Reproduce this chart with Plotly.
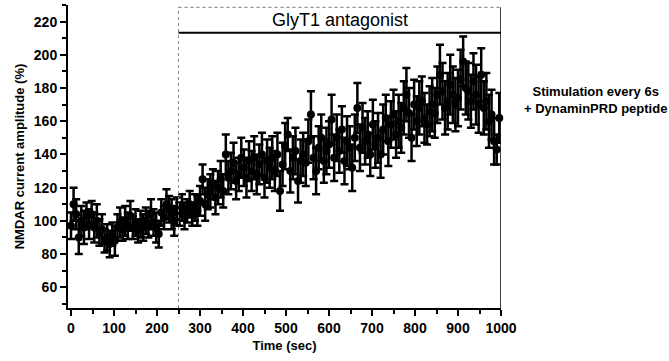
import plotly.graph_objects as go

# Time points (s) – stimulation every 6 s
time_s = [
    0, 6, 12, 18, 24, 30, 36, 42, 48, 54,
    60, 66, 72, 78, 84, 90, 96, 102, 108, 114,
    120, 126, 132, 138, 144, 150, 156, 162, 168, 174,
    180, 186, 192, 198, 204, 210, 216, 222, 228, 234,
    240, 246, 252, 258, 264, 270, 276, 282, 288, 294,
    300, 306, 312, 318, 324, 330, 336, 342, 348, 354,
    360, 366, 372, 378, 384, 390, 396, 402, 408, 414,
    420, 426, 432, 438, 444, 450, 456, 462, 468, 474,
    480, 486, 492, 498, 504, 510, 516, 522, 528, 534,
    540, 546, 552, 558, 564, 570, 576, 582, 588, 594,
    600, 606, 612, 618, 624, 630, 636, 642, 648, 654,
    660, 666, 672, 678, 684, 690, 696, 702, 708, 714,
    720, 726, 732, 738, 744, 750, 756, 762, 768, 774,
    780, 786, 792, 798, 804, 810, 816, 822, 828, 834,
    840, 846, 852, 858, 864, 870, 876, 882, 888, 894,
    900, 906, 912, 918, 924, 930, 936, 942, 948, 954,
    960, 966, 972, 978, 984, 990, 996,
]

# NMDAR current amplitude (% of baseline)
amplitude = [
    97, 110, 104, 90, 100, 96, 103, 98, 104, 96,
    100, 93, 95, 88, 90, 86, 92, 88, 96, 99,
    95, 100, 97, 103, 96, 99, 94, 98, 96, 100,
    98, 104, 99, 96, 92, 105, 102, 110, 107, 104,
    100, 106, 104, 108, 103, 106, 110, 104, 108, 106,
    112, 125, 110, 116, 118, 122, 114, 120, 125, 118,
    140, 126, 130, 135, 124, 128, 138, 132, 126, 136,
    130, 138, 128, 134, 140, 126, 136, 132, 138, 130,
    140, 118, 134, 145, 152, 130, 138, 142, 124, 136,
    140, 135, 148, 164, 138, 130, 144, 150, 136, 142,
    146, 161, 138, 150, 142, 155, 136, 148, 144, 132,
    150, 168, 144, 156, 148, 152, 140, 158, 146, 150,
    140, 155, 162, 148, 158, 164, 152, 160, 156, 168,
    176, 165, 150, 170, 160, 168, 172, 162, 158, 166,
    170, 165, 176, 188, 178, 168, 172, 182, 176, 170,
    174, 185, 196, 180, 178, 172, 184, 176, 170, 188,
    168, 172, 160, 164, 148, 143, 162,
]

# Error (SEM, %)
errors = [
    8, 10, 9, 10, 9, 10, 8, 9, 8, 9,
    10, 8, 9, 7, 8, 8, 7, 9, 8, 9,
    7, 9, 8, 9, 7, 8, 7, 8, 8, 8,
    8, 9, 8, 9, 8, 8, 7, 9, 8, 9,
    9, 8, 7, 8, 8, 7, 8, 7, 8, 9,
    9, 9, 10, 9, 10, 9, 10, 10, 11, 10,
    12, 10, 11, 12, 11, 10, 12, 11, 12, 12,
    12, 13, 12, 12, 13, 12, 13, 12, 13, 12,
    13, 12, 13, 14, 10, 13, 13, 14, 13, 13,
    13, 14, 13, 14, 13, 14, 13, 14, 13, 14,
    14, 15, 14, 14, 13, 14, 14, 15, 13, 14,
    14, 15, 14, 15, 14, 14, 13, 15, 14, 15,
    14, 15, 14, 15, 14, 15, 14, 16, 15, 16,
    16, 15, 14, 15, 15, 16, 15, 15, 12, 15,
    16, 15, 17, 18, 17, 16, 17, 18, 17, 16,
    17, 18, 15, 16, 17, 16, 17, 18, 17, 16,
    16, 17, 16, 15, 14, 9, 15,
]

drug_start = 250
drug_end = 1000
x_range = [-7, 1000]
y_range = [47.5, 230]
box_bottom = 213.3
box_top = 228.6

FONT = "Liberation Sans, Arial, sans-serif"

fig = go.Figure()
fig.add_trace(go.Scatter(
    x=time_s, y=amplitude, mode="markers",
    marker=dict(color="black", size=8),
    error_y=dict(type="data", array=errors, color="black", thickness=2.5, width=4),
    cliponaxis=False, showlegend=False,
))

# dotted line marking drug onset
fig.add_shape(type="line", x0=drug_start, x1=drug_start, y0=y_range[0], y1=box_top,
              xref="x", yref="y", line=dict(color="#888888", width=1, dash="dot"))
# right border
fig.add_shape(type="line", x0=drug_end, x1=drug_end, y0=y_range[0], y1=box_top,
              xref="x", yref="y", line=dict(color="black", width=1.5))
# box top (dotted) and bottom (solid)
fig.add_shape(type="line", x0=drug_start, x1=drug_end, y0=box_top, y1=box_top,
              xref="x", yref="y", line=dict(color="#777777", width=1, dash="dot"))
fig.add_shape(type="line", x0=drug_start, x1=drug_end, y0=box_bottom, y1=box_bottom,
              xref="x", yref="y", line=dict(color="black", width=2))

fig.add_annotation(x=(drug_start + drug_end) / 2, y=(box_top + box_bottom) / 2,
                   xref="x", yref="y", text="GlyT1 antagonist", showarrow=False,
                   font=dict(family=FONT, size=18, color="black"))
fig.add_annotation(x=1.048, y=173, xref="paper", yref="y", xanchor="left",
                   text="<b>Stimulation every 6s<br>+ DynaminPRD peptide</b>",
                   showarrow=False, align="center",
                   font=dict(family=FONT, size=13, color="black"))

fig.update_layout(
    width=669, height=361,
    margin=dict(l=68, r=168, t=5, b=53),
    plot_bgcolor="white", paper_bgcolor="white",
    font=dict(family=FONT, color="black"),
)
fig.update_xaxes(
    range=x_range, showgrid=False, zeroline=False,
    showline=True, linecolor="black", linewidth=2,
    ticks="outside", ticklen=6, tickwidth=2, tickcolor="black",
    tick0=0, dtick=100,
    minor=dict(ticks="outside", ticklen=4, tickwidth=2, tickcolor="black", dtick=50, tick0=0),
    tickfont=dict(family=FONT, size=14, color="black", weight="bold"),
    title=dict(text="<b>Time (sec)</b>", standoff=6,
               font=dict(family=FONT, size=13, color="black")),
)
fig.update_yaxes(
    range=y_range, showgrid=False, zeroline=False,
    showline=True, linecolor="black", linewidth=2,
    ticks="outside", ticklen=6, tickwidth=2, tickcolor="black",
    tickvals=[60, 80, 100, 120, 140, 160, 180, 200, 220],
    minor=dict(ticks="outside", ticklen=4, tickwidth=2, tickcolor="black", dtick=10, tick0=0),
    tickfont=dict(family=FONT, size=14, color="black", weight="bold"),
    title=dict(text="<b>NMDAR current amplitude (%)</b>", standoff=6,
               font=dict(family=FONT, size=13, color="black")),
)

fig.write_html("out.html")
